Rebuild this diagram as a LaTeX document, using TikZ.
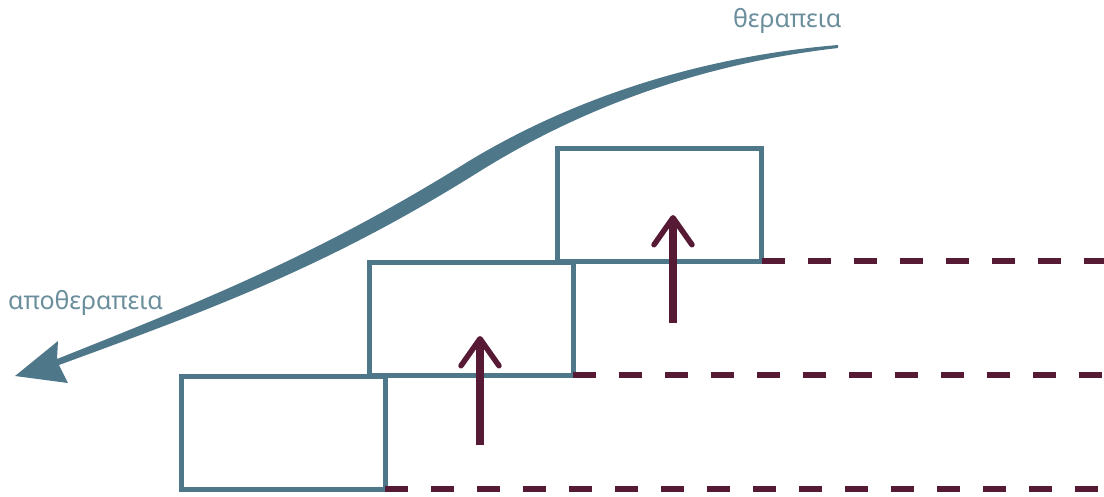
\documentclass[tikz,border=0pt]{standalone}
\usepackage{fontspec}
\setmainfont{Noto Sans}
\usetikzlibrary{arrows.meta}
\definecolor{boxcol}{HTML}{4E7889}
\definecolor{txtcol}{HTML}{6B8E9C}
\definecolor{maroon}{HTML}{561A35}
\tikzset{
  stepbox/.style={draw=boxcol, line width=5pt, minimum width=204pt, minimum height=113pt, inner sep=0pt, outer sep=0pt},
  level/.style={draw=maroon, line width=6pt, dash pattern=on 23pt off 23pt},
  rise/.style={draw=maroon, line width=8pt, -{Straight Barb[length=27pt, width=38pt, line width=5.5pt, round]}},
  lab/.style={text=txtcol, font=\fontsize{25}{30}\selectfont, inner sep=0pt, anchor=base west}
}
\begin{document}
\begin{tikzpicture}[x=1pt,y=-1pt]
\useasboundingbox (0,0) rectangle (1104,496);
% labels
\node[lab] (ther) at (733,27) {θεραπεια};
\node[lab] (apoth) at (8,309) {αποθεραπεια};
% tapered curved arrow
\coordinate (cstart) at (838,46);
\coordinate (ctip) at (15,376);
\fill[boxcol] (838,45) .. controls (708,56) and (580,94) .. (469,161)
  .. controls (320,254) and (205,300) .. (57,359)
  -- (58,341) -- (ctip) -- (68,383) -- (59,365)
  .. controls (209,310) and (327,267) .. (477,173)
  .. controls (587,104) and (708,63) .. (838,48) -- cycle;
% boxes
\node[stepbox] (b1) at (283,432.5) {};
\node[stepbox] (b2) at (471,318.5) {};
\node[stepbox] (b3) at (659.5,204.5) {};
% dashed levels
\coordinate (e1) at (1104,489);
\coordinate (e2) at (1104,375);
\coordinate (e3) at (1104,261);
\draw[level] (b1.south east) -- (e1);
\draw[level] (b2.south east) -- (e2);
\draw[level] (b3.south east) -- (e3);
% rising arrows
\coordinate (r1s) at (480,445);
\coordinate (r1e) at (480,336);
\coordinate (r2s) at (673,323);
\coordinate (r2e) at (673,215);
\draw[rise] (r1s) -- (r1e);
\draw[rise] (r2s) -- (r2e);
\end{tikzpicture}
\end{document}
